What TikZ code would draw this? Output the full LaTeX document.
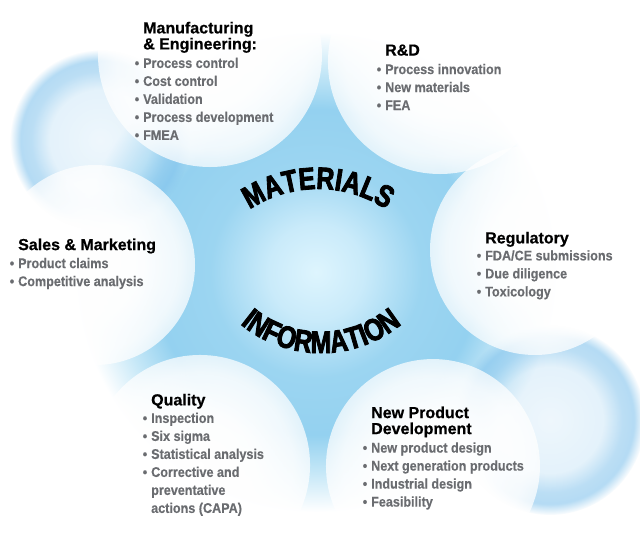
\documentclass[tikz,border=0pt]{standalone}
\usepackage{fontspec}
\usetikzlibrary{decorations.text,fadings,calc}
\setmainfont{Liberation Sans}
\newfontfamily\tfont{Liberation Sans}[FakeBold=0.6]
\newfontfamily\bfont{Liberation Sans}[FakeStretch=0.9,FakeBold=0.3]
\newfontfamily\wfont{Liberation Sans}[FakeStretch=0.8,FakeBold=2.8]
\definecolor{bulletgray}{RGB}{106,108,112}
\definecolor{halocol}{RGB}{120,190,235}

% for a circle path, 25bp of these shadings lies on the circle's rim
\pgfdeclareradialshading{blobsh}{\pgfpointorigin}{rgb(0bp)=(0.87,0.96,0.995); rgb(5bp)=(0.79,0.92,0.98); rgb(11bp)=(0.61,0.835,0.945); rgb(17bp)=(0.58,0.82,0.94); rgb(21bp)=(0.78,0.91,0.97); rgb(25bp)=(1,1,1); rgb(50bp)=(1,1,1)}
\pgfdeclareradialshading{cfadesh}{\pgfpointorigin}{rgb(0bp)=(1,1,1); rgb(12bp)=(0.97,0.97,0.97); rgb(21bp)=(0.86,0.86,0.86); rgb(25bp)=(0.72,0.72,0.72); rgb(50bp)=(0.72,0.72,0.72)}
\pgfdeclarefading{cfade}{\pgfuseshading{cfadesh}}
\pgfdeclareradialshading{halofadesh}{\pgfpointorigin}{rgb(0bp)=(0.12,0.12,0.12); rgb(14bp)=(0.2,0.2,0.2); rgb(19bp)=(0.5,0.5,0.5); rgb(22bp)=(0.55,0.55,0.55); rgb(25bp)=(0,0,0); rgb(50bp)=(0,0,0)}
\pgfdeclarefading{halofade}{\pgfuseshading{halofadesh}}

\newcommand\bi{\llap{\textbullet\hspace{4pt}}}
\newcommand\ttl[1]{{\tfont\bfseries\fontsize{16}{18}\selectfont\color{black}#1}}

\tikzset{
  wcircle/.style={fill=white, path fading=cfade},
  halo/.style={fill=halocol, path fading=halofade},
  block/.style={anchor=north west, align=left, inner sep=0pt,
    font=\bfont\bfseries\fontsize{14}{18}\selectfont, text=bulletgray},
}

\begin{document}
\begin{tikzpicture}[x=1pt,y=-1pt]
\useasboundingbox (0,0) rectangle (640,544);
\fill[white] (0,0) rectangle (640,544);

% central blue blob
\coordinate (bc) at (316,272);
\shade[shading=blobsh] (bc) circle[radius=240];
% outer halos
\coordinate (hul) at (100,140);
\coordinate (hlr) at (550,420);
\fill[halo] (hul) circle[radius=90];
\fill[halo] (hlr) circle[radius=95];

% six white circles
\coordinate (cmfg) at (210,55);
\coordinate (crd) at (440,62);
\coordinate (creg) at (535,250);
\coordinate (cnpd) at (433,466);
\coordinate (cqual) at (200,465);
\coordinate (csales) at (95,265);
\fill[wcircle] (cmfg) circle[radius=112];
\fill[wcircle] (crd) circle[radius=112];
\fill[wcircle] (creg) circle[radius=105];
\fill[wcircle] (cnpd) circle[radius=107];
\fill[wcircle] (cqual) circle[radius=110];
\fill[wcircle] (csales) circle[radius=100];

% arched words
\coordinate (mc) at (318,313);
\coordinate (ic) at (321,226);
\path[decorate, decoration={text along path, text align=center,
  text={|\wfont\bfseries\fontsize{31}{31}\selectfont|MATERIALS}}]
  ($(mc)+(-127:124)$) arc[start angle=-127, end angle=-53, radius=124];
\path[decorate, decoration={text along path, text align=center,
  text={|\wfont\bfseries\fontsize{31}{31}\selectfont|INFORMATION}}]
  ($(ic)+(135:127)$) arc[start angle=135, end angle=45, radius=127];

% text blocks
\node[block] (mfg) at (143,21.6) {\ttl{Manufacturing}\\[-2pt]
  \ttl{\& Engineering:}\\[0.5pt]
  \bi Process control\\
  \bi Cost control\\
  \bi Validation\\
  \bi Process development\\
  \bi FMEA};
\node[block] (rd) at (385,44.3) {\ttl{R\&D}\\[0.5pt]
  \bi Process innovation\\
  \bi New materials\\
  \bi FEA};
\node[block] (reg) at (485,231.6) {\ttl{Regulatory}\\[-1pt]
  \bi FDA/CE submissions\\
  \bi Due diligence\\
  \bi Toxicology};
\node[block] (sales) at (18,238.3) {\ttl{Sales \& Marketing}\\[0pt]
  \bi Product claims\\
  \bi Competitive analysis};
\node[block] (qual) at (151,393.6) {\ttl{Quality}\\[-0.5pt]
  \bi Inspection\\
  \bi Six sigma\\
  \bi Statistical analysis\\
  \bi Corrective and\\
  preventative\\
  actions (CAPA)};
\node[block] (npd) at (371,406.3) {\ttl{New Product}\\[-2pt]
  \ttl{Development}\\[0.5pt]
  \bi New product design\\
  \bi Next generation products\\
  \bi Industrial design\\
  \bi Feasibility};
\end{tikzpicture}
\end{document}
